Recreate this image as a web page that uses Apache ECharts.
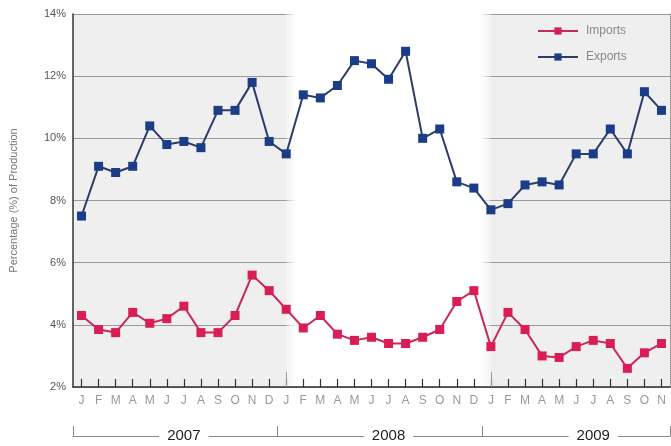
<!DOCTYPE html>
<html><head><meta charset="utf-8">
<script src="https://cdn.jsdelivr.net/npm/echarts@6/dist/echarts.min.js"></script>
<style>html,body{margin:0;padding:0;background:#fff}#c{width:671px;height:446px}</style>
</head><body><div id="c"></div>
<script>
const categories = [
 'Jan 2007','Feb 2007','Mar 2007','Apr 2007','May 2007','Jun 2007','Jul 2007','Aug 2007','Sep 2007','Oct 2007','Nov 2007','Dec 2007',
 'Jan 2008','Feb 2008','Mar 2008','Apr 2008','May 2008','Jun 2008','Jul 2008','Aug 2008','Sep 2008','Oct 2008','Nov 2008','Dec 2008',
 'Jan 2009','Feb 2009','Mar 2009','Apr 2009','May 2009','Jun 2009','Jul 2009','Aug 2009','Sep 2009','Oct 2009','Nov 2009'
];
const imports = [4.3,3.85,3.75,4.4,4.05,4.2,4.6,3.75,3.75,4.3,5.6,5.1,
 4.5,3.9,4.3,3.7,3.5,3.6,3.4,3.4,3.6,3.85,4.75,5.1,
 3.3,4.4,3.85,3.0,2.95,3.3,3.5,3.4,2.6,3.1,3.4];
const exports_ = [7.5,9.1,8.9,9.1,10.4,9.8,9.9,9.7,10.9,10.9,11.8,9.9,
 9.5,11.4,11.3,11.7,12.5,12.4,11.9,12.8,10.0,10.3,8.6,8.4,
 7.7,7.9,8.5,8.6,8.5,9.5,9.5,10.3,9.5,11.5,10.9];
const yTicks = [2,4,6,8,10,12,14];
const seriesNames = ['Imports','Exports'];
const highlightYear = ['Jan 2008','Jan 2009'];

const chart = echarts.init(document.getElementById('c'));
const font = 'Liberation Sans';
chart.setOption({
  animation:false,
  textStyle:{fontFamily:font},
  grid:{left:68, top:14, width:602, height:373, show:true, backgroundColor:'#efefef', borderWidth:0},
  legend:{
    data:seriesNames, orient:'vertical', left:532, top:20, itemWidth:40, itemHeight:9, itemGap:14,
    textStyle:{color:'#888', fontSize:12, fontFamily:font, padding:[0,0,0,3]}
  },
  xAxis:[
    {type:'category', data:categories, boundaryGap:true, position:'bottom', z:3,
     axisLine:{show:true, lineStyle:{color:'#333', width:1.5}},
     axisTick:{show:true, inside:true, interval:0, alignWithLabel:true, length:8, lineStyle:{color:'#333', width:1.2}},
     axisLabel:{interval:0, margin:8, color:'#999', fontSize:12, formatter:v=>v.charAt(0)},
     splitLine:{show:false}},
    {type:'category', data:categories, boundaryGap:true, position:'bottom', offset:49,
     axisLine:{show:true, lineStyle:{color:'#888', width:1}},
     axisTick:{show:true, inside:true, interval:(i)=>i%12===0, alignWithLabel:false, length:10, lineStyle:{color:'#888', width:1}},
     axisLabel:{interval:(i)=>i%12===6, margin:0, verticalAlign:'middle', color:'#222', fontSize:15,
       backgroundColor:'#fff', padding:[0,8], formatter:v=>v.split(' ')[1]},
     splitLine:{show:false}},
    {type:'category', data:categories, boundaryGap:true, position:'bottom', offset:0, z:3,
     axisLine:{show:false},
     axisTick:{show:true, inside:true, interval:(i)=>i%12===0 && i>0, alignWithLabel:true, length:15, lineStyle:{color:'#999', width:1}},
     axisLabel:{show:false}, splitLine:{show:false}}
  ],
  yAxis:[
    {type:'value', min:yTicks[0], max:yTicks[yTicks.length-1], interval:2, z:1,
     name:'Percentage (%) of Production', nameLocation:'middle', nameGap:54, nameRotate:90,
     nameTextStyle:{color:'#777', fontSize:11},
     axisLine:{show:true, lineStyle:{color:'#333', width:1.5}},
     axisTick:{show:false},
     axisLabel:{color:'#555', fontSize:11, margin:7, formatter:v=>v+'%'},
     splitLine:{lineStyle:{color:'#9a9a9a', width:1}}},
    {type:'value', min:yTicks[0], max:yTicks[yTicks.length-1], interval:2, position:'right',
     axisLine:{show:true, lineStyle:{color:'#888', type:'dotted'}},
     axisTick:{show:false}, axisLabel:{show:false}, splitLine:{show:false}}
  ],
  series:[
    {type:'line', name:'band', data:[], z:0.5, silent:true,
     markArea:{silent:true, itemStyle:{color:{type:'linear',x:0,y:0,x2:1,y2:0,colorStops:[
        {offset:0,color:'rgba(255,255,255,0.3)'},{offset:0.05,color:'#fff'},{offset:0.95,color:'#fff'},{offset:1,color:'rgba(255,255,255,0.3)'}]}},
       data:[[{xAxis:highlightYear[0]},{xAxis:highlightYear[1]}]]}},
    {type:'line', name:seriesNames[0], data:imports, z:2, symbol:'rect', symbolSize:9,
     lineStyle:{color:'#c8285a', width:2}, itemStyle:{color:'#d81e55'}},
    {type:'line', name:seriesNames[1], data:exports_, z:2, symbol:'rect', symbolSize:9,
     lineStyle:{color:'#2c3e68', width:2}, itemStyle:{color:'#1b3c86'}}
  ]
});
</script></body></html>
